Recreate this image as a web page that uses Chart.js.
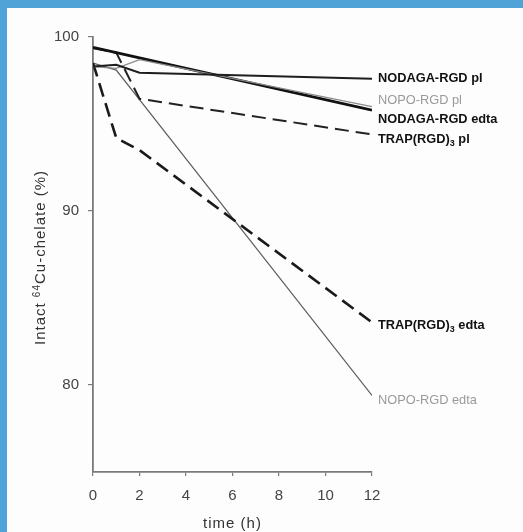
<!DOCTYPE html>
<html>
<head>
<meta charset="utf-8">
<script src="https://cdn.jsdelivr.net/npm/chart.js@4.4.1/dist/chart.umd.min.js"></script>
<style>
  html, body { margin: 0; padding: 0; background: #ffffff; }
  #frame { position: absolute; left: 0; top: 0; width: 516px; height: 524px;
           border-left: 7px solid #4fa3d6; border-top: 8px solid #4fa3d6; background: #fdfdfd; }
  #wrap { position: absolute; left: 0; top: 0; width: 523px; height: 532px; }
</style>
</head>
<body>
<div id="frame"></div>
<div id="wrap"><canvas id="c" width="523" height="532"></canvas></div>
<script>
// ---- data ----
const times = [0, 1, 2, 12];
const xTicks = [0, 2, 4, 6, 8, 10, 12];
const yTicks = [80, 90, 100];

const nodagaPl   = [98.3, 98.4, 97.95, 97.6];
const nopoPl     = [98.3, 98.2, 98.7, 96.0];
const nodagaEdta = [99.4, 99.1, 98.8, 95.8];
const trapPl     = [99.35, 99.1, 96.45, 94.4];
const trapEdta   = [98.5, 94.2, 93.5, 83.6];
const nopoEdta   = [98.5, 98.1, 96.4, 79.4];

const seriesNames = ['NODAGA-RGD pl', 'NOPO-RGD pl', 'NODAGA-RGD edta',
                     'TRAP(RGD)₃ pl', 'TRAP(RGD)₃ edta', 'NOPO-RGD edta'];
const xTitle = 'time (h)';
const yTitleParts = ['Intact ', '64', 'Cu-chelate (%)'];

// ---- styling ----
const FONT = '"Liberation Sans", Arial, sans-serif';
const styles = [
  { color: '#1e1e1e', width: 2.0, dash: [],      label: '#111', bold: true,  dy: 0 },
  { color: '#8a8a8a', width: 1.3, dash: [],      label: '#9a9a9a', bold: false, dy: -6 },
  { color: '#111111', width: 2.8, dash: [],      label: '#111', bold: true,  dy: 9 },
  { color: '#222222', width: 2.0, dash: [14, 7], label: '#111', bold: true,  dy: 5 },
  { color: '#1a1a1a', width: 2.6, dash: [14, 7], label: '#111', bold: true,  dy: 3 },
  { color: '#5e5e5e', width: 1.3, dash: [],      label: '#9a9a9a', bold: false, dy: 5 }
];
const allSeries = [nodagaPl, nopoPl, nodagaEdta, trapPl, trapEdta, nopoEdta];

const datasets = allSeries.map((vals, i) => ({
  label: seriesNames[i],
  data: times.map((t, j) => ({ x: t, y: vals[j] })),
  borderColor: styles[i].color,
  borderWidth: styles[i].width,
  borderDash: styles[i].dash,
  pointRadius: 0,
  fill: false,
  tension: 0
}));

function drawRich(ctx, text, x, y, size, bold, color) {
  const f = (s) => (bold ? 'bold ' : '') + s + 'px ' + FONT;
  ctx.fillStyle = color;
  ctx.textBaseline = 'middle';
  ctx.textAlign = 'left';
  let cx = x;
  for (const part of text.split(/(₃)/)) {
    if (!part) continue;
    if (part === '₃') {
      ctx.font = f(size * 0.7);
      ctx.fillText('3', cx, y + size * 0.3);
      cx += ctx.measureText('3').width;
    } else {
      ctx.font = f(size);
      ctx.fillText(part, cx, y);
      cx += ctx.measureText(part).width;
    }
  }
}

const labelPlugin = {
  id: 'endLabels',
  afterDatasetsDraw(chart) {
    const ctx = chart.ctx;
    ctx.save();
    chart.data.datasets.forEach((ds, i) => {
      const meta = chart.getDatasetMeta(i);
      const p = meta.data[meta.data.length - 1];
      drawRich(ctx, ds.label, p.x + 6, p.y + styles[i].dy, 12.8, styles[i].bold, styles[i].label);
    });
    ctx.letterSpacing = '1px';
    // x axis title
    const xa = chart.scales.x;
    ctx.font = '15px ' + FONT;
    ctx.fillStyle = '#333';
    ctx.textAlign = 'center';
    ctx.textBaseline = 'middle';
    ctx.fillText(xTitle, (xa.left + xa.right) / 2, 524);
    // y axis title with superscript
    const ya = chart.scales.y;
    const cy = (ya.top + ya.bottom) / 2 + 3;
    ctx.translate(41, cy);
    ctx.rotate(-Math.PI / 2);
    const big = '15px ' + FONT;
    const small = '10px ' + FONT;
    ctx.font = big; const w0 = ctx.measureText(yTitleParts[0]).width;
    const w2 = ctx.measureText(yTitleParts[2]).width;
    ctx.font = small; const w1 = ctx.measureText(yTitleParts[1]).width;
    let sx = -(w0 + w1 + w2) / 2;
    ctx.textAlign = 'left';
    ctx.font = big; ctx.fillText(yTitleParts[0], sx, 0); sx += w0;
    ctx.font = small; ctx.fillText(yTitleParts[1], sx, -4); sx += w1;
    ctx.font = big; ctx.fillText(yTitleParts[2], sx, 0);
    ctx.restore();
  }
};

new Chart(document.getElementById('c'), {
  type: 'line',
  data: { datasets },
  options: {
    responsive: false,
    animation: false,
    layout: { padding: { top: 37, right: 151, bottom: 0, left: 0 } },
    plugins: { legend: { display: false }, tooltip: { enabled: false } },
    scales: {
      x: {
        type: 'linear', min: 0, max: 12,
        afterBuildTicks: (a) => { a.ticks = xTicks.map(v => ({ value: v })); },
        afterFit: (a) => { a.height = 60; },
        grid: { drawOnChartArea: false, drawTicks: true, tickLength: 4, color: '#7a7a7a', lineWidth: 1.2 },
        border: { color: '#7a7a7a', width: 1.8 },
        ticks: { color: '#444', font: { family: FONT, size: 15 }, padding: 11, maxRotation: 0 }
      },
      y: {
        min: 75, max: 100,
        afterBuildTicks: (a) => { a.ticks = yTicks.map(v => ({ value: v })); },
        afterFit: (a) => { a.width = 93; },
        grid: { drawOnChartArea: false, drawTicks: true, tickLength: 5, color: '#7a7a7a', lineWidth: 1.2 },
        border: { color: '#7a7a7a', width: 1.8 },
        ticks: { color: '#444', font: { family: FONT, size: 15 }, padding: 9 }
      }
    }
  },
  plugins: [labelPlugin]
});
</script>
</body>
</html>
